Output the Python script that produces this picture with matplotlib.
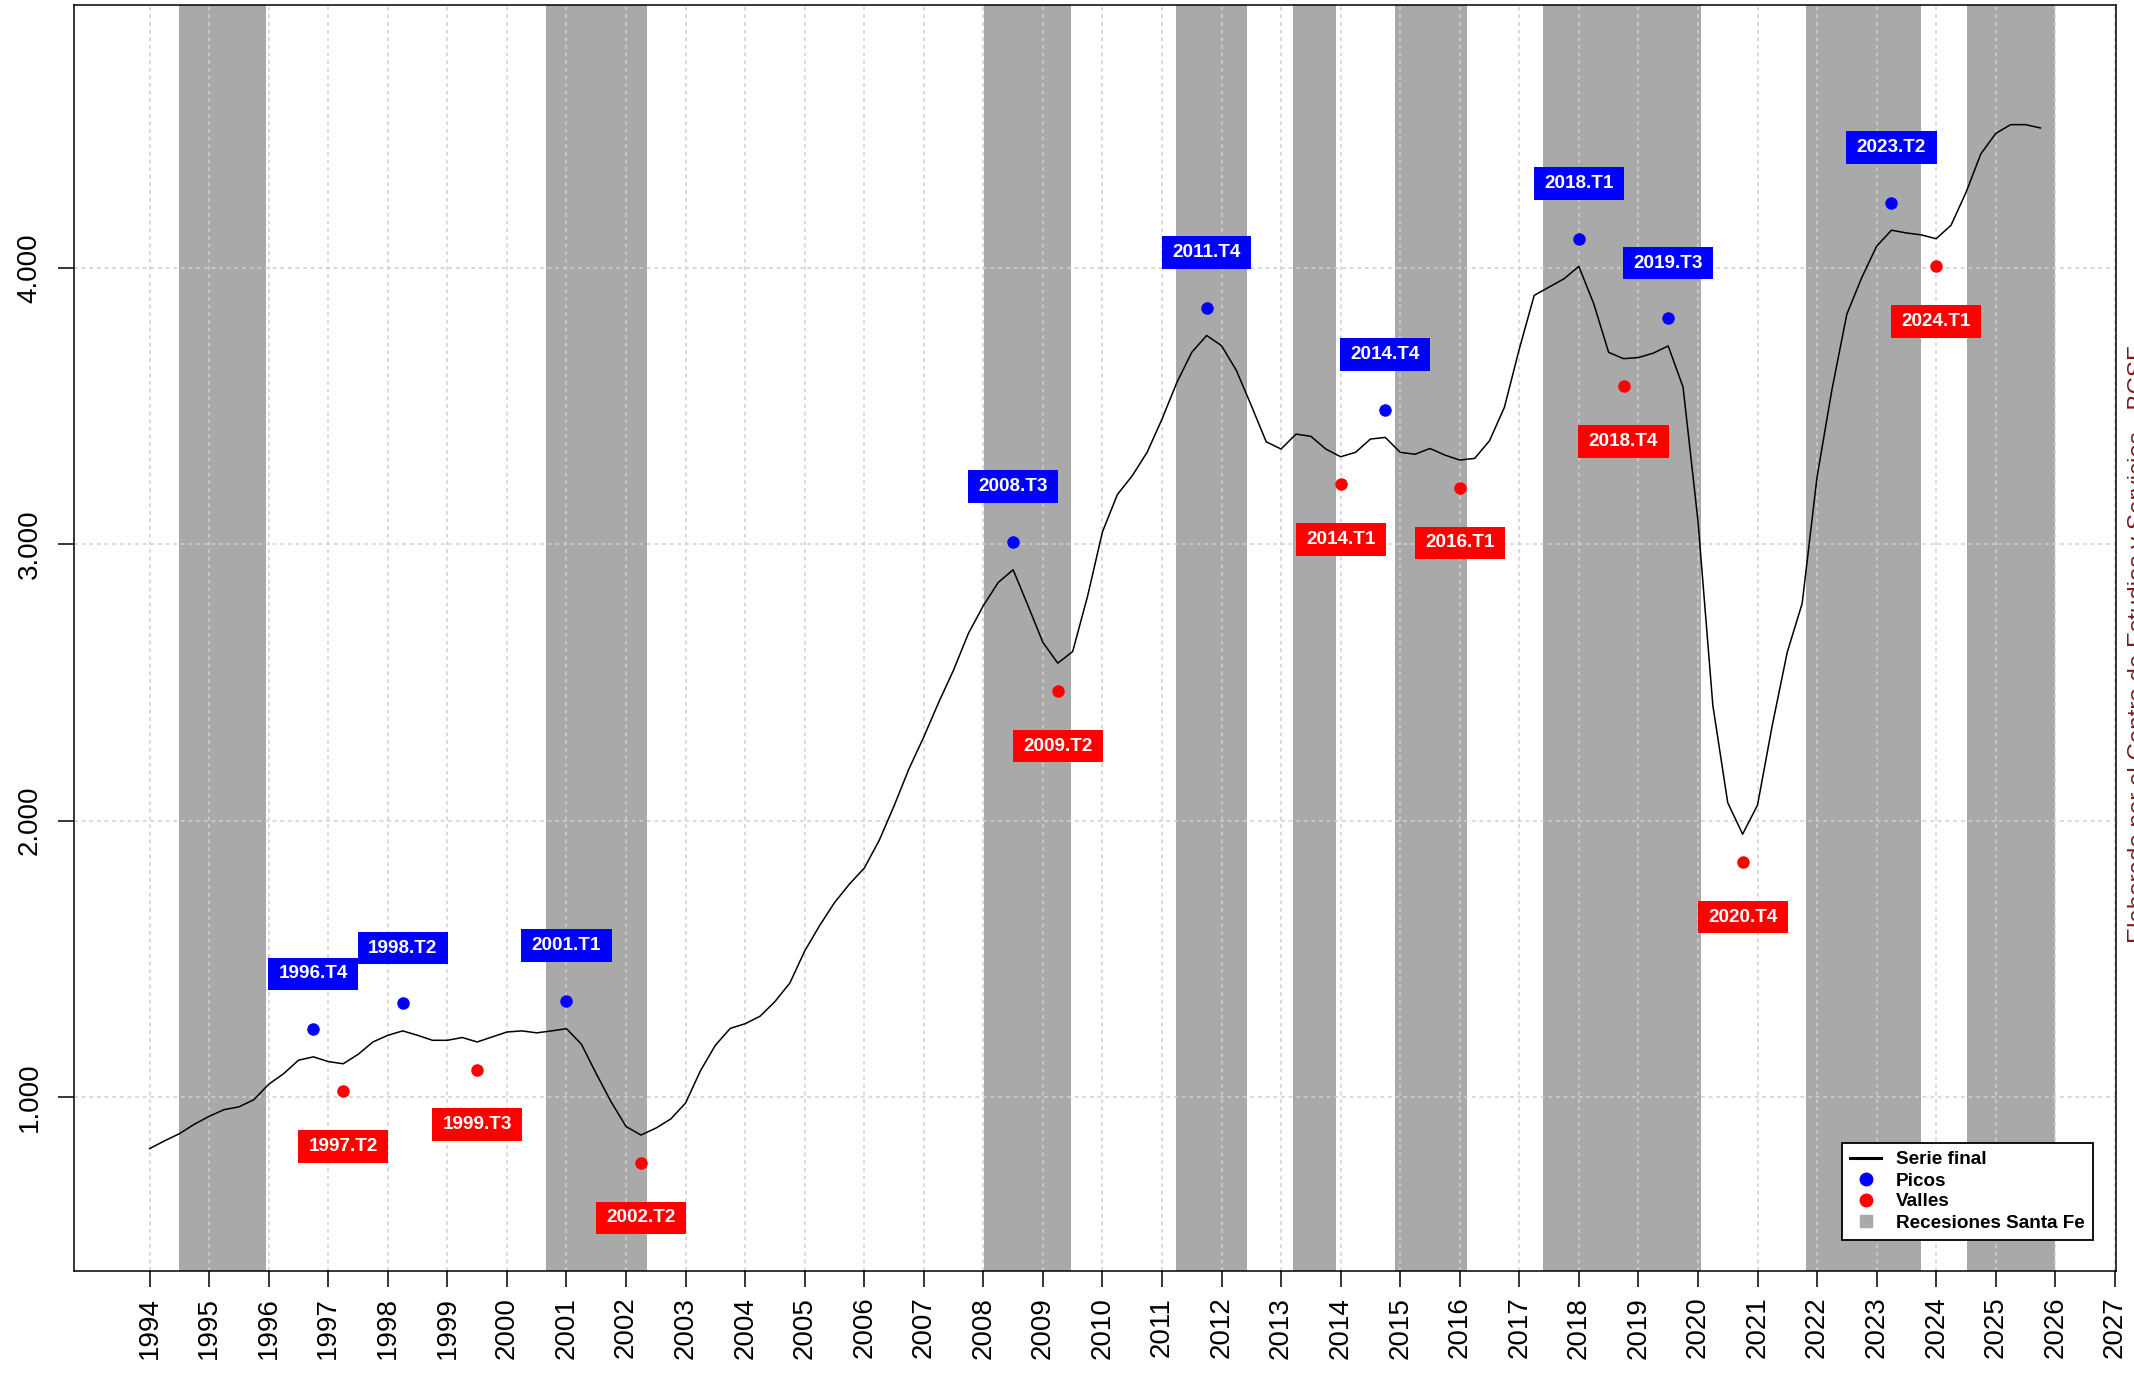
"""Serie final con picos, valles y recesiones de Santa Fe (trimestral 1994-2025)."""

import matplotlib

matplotlib.use('Agg')
import matplotlib.pyplot as plt
import numpy as np
from matplotlib.lines import Line2D
from matplotlib.path import Path

plt.rcParams['font.family'] = ['Liberation Sans', 'DejaVu Sans']

START_YEAR = 1994

# quarterly values, 1994.T1 ... 2025.T4
SERIES = [
    813, 841, 867, 901,        # 1994
    930, 954, 964, 990,        # 1995
    1046, 1084, 1133, 1145,    # 1996
    1128, 1120, 1154, 1199,    # 1997
    1223, 1239, 1223, 1205,    # 1998
    1205, 1215, 1199, 1217,    # 1999
    1235, 1239, 1232, 1239,    # 2000
    1247, 1191, 1084, 982,     # 2001
    893, 862, 887, 920,        # 2002
    978, 1095, 1187, 1248,     # 2003
    1265, 1292, 1345, 1412,    # 2004
    1528, 1620, 1703, 1770,    # 2005
    1828, 1928, 2053, 2187,    # 2006
    2303, 2428, 2545, 2678,    # 2007
    2778, 2862, 2908, 2778,    # 2008
    2645, 2570, 2612, 2812,    # 2009
    3045, 3180, 3248, 3333,    # 2010
    3453, 3586, 3695, 3756,    # 2011
    3719, 3629, 3502, 3371,    # 2012
    3345, 3399, 3391, 3345,    # 2013
    3317, 3333, 3381, 3387,    # 2014
    3333, 3326, 3347, 3323,    # 2015
    3305, 3311, 3375, 3496,    # 2016
    3707, 3901, 3931, 3961,    # 2017
    4006, 3871, 3695, 3672,    # 2018
    3676, 3692, 3718, 3569,    # 2019
    3085, 2417, 2065, 1951,    # 2020
    2056, 2347, 2610, 2786,    # 2021
    3244, 3560, 3833, 3965,    # 2022
    4079, 4137, 4127, 4120,    # 2023
    4106, 4155, 4273, 4413,    # 2024
    4487, 4519, 4519, 4507,    # 2025
]

PEAKS = ['1996.T4', '1998.T2', '2001.T1', '2008.T3', '2011.T4',
         '2014.T4', '2018.T1', '2019.T3', '2023.T2']
VALLEYS = ['1997.T2', '1999.T3', '2002.T2', '2009.T2', '2014.T1',
           '2016.T1', '2018.T4', '2020.T4', '2024.T1']

# recession bands (fractional years)
REC_START = [1994.50, 2000.66, 2008.01, 2011.23, 2013.20, 2014.92, 2017.39, 2021.81, 2024.52]
REC_END = [1995.95, 2002.35, 2009.47, 2012.43, 2013.92, 2016.13, 2020.05, 2023.75, 2026.00]

X_TICKS = list(range(1994, 2028))
Y_TICKS = [1000, 2000, 3000, 4000]
Y_TICK_LABELS = ['1.000', '2.000', '3.000', '4.000']
Y_LIM = (370, 4952)

LEGEND_LABELS = ['Serie final', 'Picos', 'Valles', 'Recesiones Santa Fe']
SOURCE_TEXT = 'Elaborado por el Centro de Estudios y Servicios - BCSF'

BAND_COLOR = '#a9a9a9'
MARK_OFFSET = 100   # marker distance from the series
LABEL_OFFSET = 300  # label centre distance from the series


def quarter_to_time(tag: str) -> float:
    year, q = tag.split('.T')
    return int(year) + (int(q) - 1) / 4


def label_box(x0, y0, width, height, mutation_size):
    # square box, wider padding left/right than top/bottom
    padx, pady = 0.55 * mutation_size, 0.42 * mutation_size
    x0, y0 = x0 - padx, y0 - pady
    x1, y1 = x0 + width + 2 * padx, y0 + height + 2 * pady
    return Path([(x0, y0), (x1, y0), (x1, y1), (x0, y1), (x0, y0)], closed=True)


def main() -> None:
    values = np.array(SERIES, dtype=float)
    times = START_YEAR + np.arange(len(values)) / 4

    fig = plt.figure(figsize=(21.34, 13.77), dpi=100)
    ax = fig.add_axes([74 / 2134, 1 - 1271 / 1377, 2042 / 2134, 1266 / 1377])

    for a, b in zip(REC_START, REC_END):
        ax.axvspan(a, b, color=BAND_COLOR, lw=0, zorder=1)

    ax.set_axisbelow('line')
    ax.grid(True, color='#cfcfcf', linestyle=(0, (2.5, 2.5)), linewidth=1.1)

    ax.plot(times, values, color='black', linewidth=1.1, zorder=3)

    for tags, color, sign in ((PEAKS, 'blue', 1), (VALLEYS, 'red', -1)):
        for tag in tags:
            t = quarter_to_time(tag)
            v = values[int(round((t - START_YEAR) * 4))]
            ax.plot(t, v + sign * MARK_OFFSET, 'o', color=color, markersize=9,
                    markeredgewidth=0, zorder=4)
            ax.text(t, v + sign * LABEL_OFFSET, tag, ha='center', va='center',
                    color='white', fontsize=13.6, fontweight='bold', zorder=5,
                    bbox=dict(boxstyle=label_box, facecolor=color, edgecolor='none'))

    span = times[-1] - times[0]
    ax.set_xlim(times[0] - 0.04 * span, times[-1] + 0.04 * span)
    ax.set_ylim(*Y_LIM)

    ax.set_xticks(X_TICKS)
    ax.set_xticklabels([str(y) for y in X_TICKS], rotation=90)
    ax.set_yticks(Y_TICKS)
    ax.set_yticklabels(Y_TICK_LABELS, rotation=90, va='center')
    ax.tick_params(axis='both', length=11.5, width=1.1, labelsize=20)
    ax.tick_params(axis='x', pad=7)
    ax.tick_params(axis='y', pad=11)
    for spine in ax.spines.values():
        spine.set_linewidth(1.1)

    handles = [
        Line2D([], [], color='black', linewidth=2.2),
        Line2D([], [], linestyle='none', marker='o', color='blue', markersize=9),
        Line2D([], [], linestyle='none', marker='o', color='red', markersize=9),
        Line2D([], [], linestyle='none', marker='s', color=BAND_COLOR, markersize=8),
    ]
    leg = ax.legend(
        handles, LEGEND_LABELS,
        loc='lower right', bbox_to_anchor=(1 - 23 / 2042, 31 / 1266),
        borderaxespad=0, prop={'weight': 'bold', 'size': 13.6},
        fancybox=False, framealpha=1, edgecolor='black',
        handlelength=1.6, handletextpad=0.8, borderpad=0.45, labelspacing=0.2,
    )
    leg.get_frame().set_linewidth(1.3)
    leg.set_zorder(6)

    fig.text(2128 / 2134, 0.532, SOURCE_TEXT, rotation=90, ha='left', va='center',
             fontsize=17.4, color='#7a1f1f')

    fig.savefig('out.png', dpi=100)
    plt.close(fig)


if __name__ == '__main__':
    main()
